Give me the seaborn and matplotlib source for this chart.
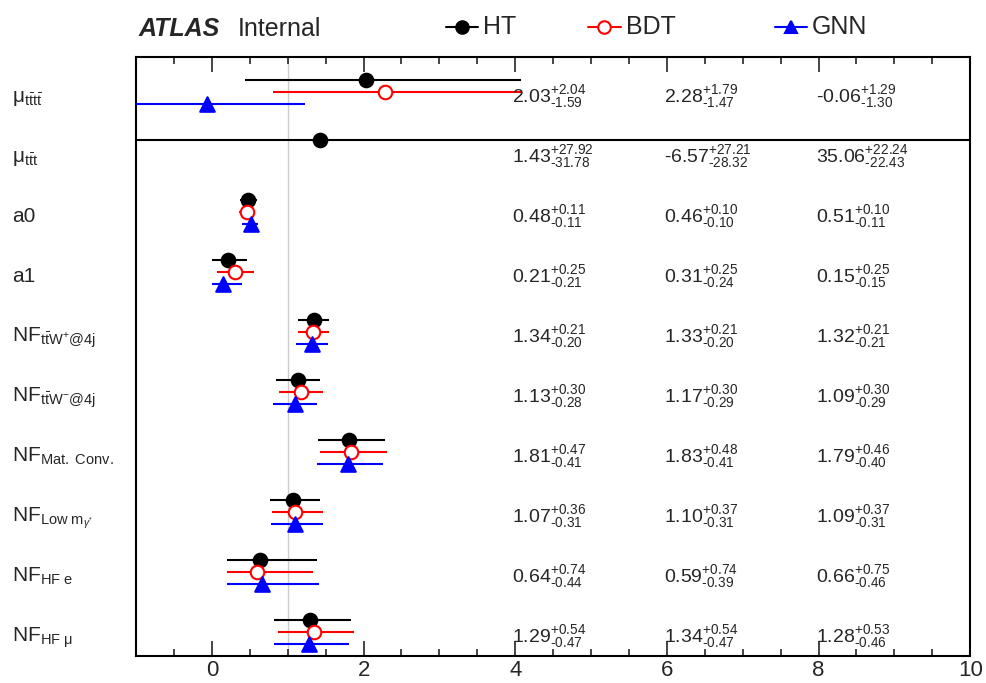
"""Summary plot of fitted parameters for the three taggers."""
import matplotlib
matplotlib.use('Agg')
import matplotlib.pyplot as plt
import matplotlib.transforms as mtransforms
from matplotlib.lines import Line2D
import numpy as np
import pandas as pd
import seaborn as sns

param_labels = [
    r'μ$_{\mathrm{t\bar{t}t\bar{t}}}$',
    r'μ$_{\mathrm{t\bar{t}t}}$',
    'a0',
    'a1',
    r'NF$_{\mathrm{t\bar{t}W^{+}@4j}}$',
    r'NF$_{\mathrm{t\bar{t}W^{-}@4j}}$',
    r'NF$_{\mathrm{Mat.\ Conv.}}$',
    r'NF$_{\mathrm{Low}\ \mathrm{m}_{\gamma^{*}}}$',
    r'NF$_{\mathrm{HF}\ \mathrm{e}}$',
    r'NF$_{\mathrm{HF}\ \mathrm{μ}}$',
]

ht_val = [2.03, 1.43, 0.48, 0.21, 1.34, 1.13, 1.81, 1.07, 0.64, 1.29]
ht_up = [2.04, 27.92, 0.11, 0.25, 0.21, 0.30, 0.47, 0.36, 0.74, 0.54]
ht_dn = [1.59, 31.78, 0.11, 0.21, 0.20, 0.28, 0.41, 0.31, 0.44, 0.47]

bdt_val = [2.28, -6.57, 0.46, 0.31, 1.33, 1.17, 1.83, 1.10, 0.59, 1.34]
bdt_up = [1.79, 27.21, 0.10, 0.25, 0.21, 0.30, 0.48, 0.37, 0.74, 0.54]
bdt_dn = [1.47, 28.32, 0.10, 0.24, 0.20, 0.29, 0.41, 0.31, 0.39, 0.47]

gnn_val = [-0.06, 35.06, 0.51, 0.15, 1.32, 1.09, 1.79, 1.09, 0.66, 1.28]
gnn_up = [1.29, 22.24, 0.10, 0.25, 0.21, 0.30, 0.46, 0.37, 0.75, 0.53]
gnn_dn = [1.30, 22.43, 0.11, 0.15, 0.21, 0.29, 0.40, 0.31, 0.46, 0.46]

model_names = ['HT', 'BDT', 'GNN']
x_ticks = [0, 2, 4, 6, 8, 10]

XMIN, XMAX = -1, 10

sns.set_style('ticks')
plt.rcParams['font.family'] = ['Liberation Sans', 'DejaVu Sans']
plt.rcParams['mathtext.fontset'] = 'custom'
plt.rcParams['mathtext.rm'] = 'Liberation Sans'
plt.rcParams['mathtext.it'] = 'Liberation Sans:italic'
plt.rcParams['mathtext.bf'] = 'Liberation Sans:bold'
plt.rcParams['axes.unicode_minus'] = False

model_data = {
    'HT': (ht_val, ht_up, ht_dn),
    'BDT': (bdt_val, bdt_up, bdt_dn),
    'GNN': (gnn_val, gnn_up, gnn_dn),
}
model_style = {
    'HT': dict(color='black', face='black', marker='o', offset=0.0, text_x=3.96),
    'BDT': dict(color='red', face='white', marker='o', offset=0.2, text_x=5.96),
    'GNN': dict(color='blue', face='blue', marker='^', offset=0.4, text_x=7.96),
}

frames = []
for name in model_names:
    v, u, d = model_data[name]
    f = pd.DataFrame({'value': v, 'up': u, 'dn': d})
    f['row'] = np.arange(len(v))
    f['model'] = name
    f['y'] = f['row'] + model_style[name]['offset']
    frames.append(f)
df = pd.concat(frames, ignore_index=True)
df['lo'] = df['value'] - df['dn']
df['hi'] = df['value'] + df['up']
df['visible'] = df['value'].between(XMIN, XMAX)

fig = plt.figure(figsize=(9.86, 6.83), dpi=100)
ax = fig.add_axes([0.138, 0.0395, 0.846, 0.877])

ax.axvline(1, color='#cccccc', lw=1, zorder=0)

z = 2
for name in model_names:
    st = model_style[name]
    sub = df[(df['model'] == name) & df['visible']]
    ax.hlines(sub['y'], sub['lo'], sub['hi'], color=st['color'], lw=1.5, zorder=z)
    sns.scatterplot(data=sub, x='value', y='y', ax=ax, marker=st['marker'],
                    s=95 if st['marker'] == 'o' else 110,
                    color=st['face'], edgecolor=st['color'], linewidth=1.5,
                    legend=False, zorder=z + 1)
    z += 2

# value annotations (plain hyphens like the original)
for _, r in df.iterrows():
    st = model_style[r['model']]
    txt = (f"{r['value']:.2f}"
           + rf"$^{{\text{{+{r['up']:.2f}}}}}_{{\text{{-{r['dn']:.2f}}}}}$")
    ax.text(st['text_x'], r['row'] + 0.36, txt, ha='left', va='baseline',
            fontsize=14, zorder=10)

ax.set_xlim(XMIN, XMAX)
ax.set_ylim(len(param_labels) - 0.4, -0.383)
ax.set_xticks(x_ticks)
ax.set_xticks(np.arange(-0.5, 10, 0.5), minor=True)
ax.set_yticks([])
ax.set_xlabel('')
ax.set_ylabel('')
ax.tick_params(axis='x', which='both', direction='in', top=True, bottom=True,
               labelsize=16, pad=3, width=1.2)
ax.tick_params(axis='x', which='major', length=11)
ax.tick_params(axis='x', which='minor', length=5)
for sp in ax.spines.values():
    sp.set_visible(True)
    sp.set_linewidth(1.5)
    sp.set_color('black')

# row labels on the left
trans = mtransforms.blended_transform_factory(fig.transFigure, ax.transData)
for i, lab in enumerate(param_labels):
    ax.text(0.012, i + 0.36, lab, transform=trans, ha='left', va='baseline',
            fontsize=15, clip_on=False)

# header
fig.text(0.140, 0.957, 'ATLAS', fontsize=18, fontweight='bold', fontstyle='italic',
         va='center', ha='left')
fig.text(0.241, 0.957, 'Internal', fontsize=18, va='center', ha='left')

legend_pos = {'HT': (0.452, 0.485), 'BDT': (0.596, 0.630), 'GNN': (0.786, 0.818)}
for name in model_names:
    st = model_style[name]
    x0, x1 = legend_pos[name]
    fig.add_artist(Line2D([x0, x1], [0.961, 0.961], transform=fig.transFigure,
                          color=st['color'], lw=1.5))
    fig.add_artist(Line2D([(x0 + x1) / 2], [0.961], transform=fig.transFigure,
                          color=st['color'], marker=st['marker'],
                          markerfacecolor=st['face'], markeredgecolor=st['color'],
                          markersize=9, markeredgewidth=1.5))
    fig.text(x1 + 0.005, 0.961, name, fontsize=18, va='center', ha='left')

fig.savefig('out.png', dpi=100)
plt.close(fig)
